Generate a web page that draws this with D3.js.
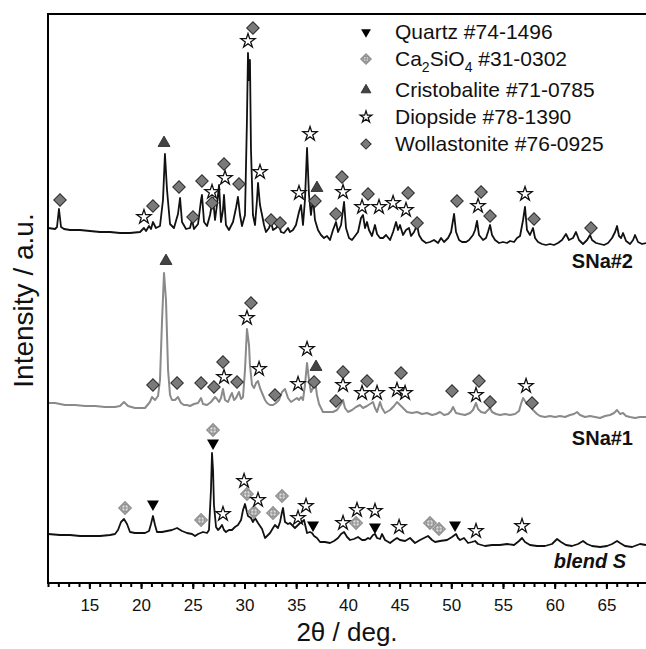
<!DOCTYPE html>
<html>
<head>
<meta charset="utf-8">
<script src="https://cdn.jsdelivr.net/npm/d3@7"></script>
<style>
  body { margin: 0; background: #fff; }
  svg { display: block; font-family: "Liberation Sans", Arial, sans-serif; }
</style>
</head>
<body>
<svg id="chart" width="646" height="649"></svg>
<script>
// XRD patterns, [2theta, intensity a.u.] (stacked offsets already included)
const snaTwo = [[11.00,355],[11.68,354],[11.87,356],[12.06,374],[12.26,356],[12.55,354],[13.13,353],[14.09,353],[15.06,352],[16.03,351],[17.00,351],[17.96,350],[18.93,350],[19.90,351],[20.28,355],[20.48,352],[20.77,357],[20.96,354],[21.15,361],[21.44,355],[21.83,357],[22.12,383],[22.31,429],[22.51,393],[22.80,359],[23.18,355],[23.57,369],[23.77,385],[23.96,361],[24.35,354],[24.73,355],[24.93,363],[25.12,354],[25.51,359],[25.80,383],[25.89,388],[26.09,361],[26.38,357],[26.67,368],[26.96,385],[27.15,363],[27.34,378],[27.54,398],[27.73,361],[27.92,373],[28.02,388],[28.21,358],[28.50,353],[28.89,361],[29.18,375],[29.37,386],[29.57,368],[29.76,357],[30.05,368],[30.24,463],[30.34,530],[30.44,503],[30.53,523],[30.63,433],[30.82,368],[31.02,358],[31.21,383],[31.31,400],[31.50,378],[31.70,368],[31.89,358],[32.08,351],[32.37,355],[32.57,361],[32.76,353],[33.05,355],[33.34,358],[33.53,351],[33.82,350],[34.21,355],[34.40,351],[34.69,353],[34.98,358],[35.27,371],[35.47,378],[35.66,358],[35.85,383],[36.05,435],[36.24,388],[36.43,368],[36.63,385],[36.82,363],[37.11,353],[37.40,348],[37.69,345],[37.98,347],[38.27,343],[38.56,353],[38.85,361],[39.05,351],[39.34,358],[39.63,381],[39.82,355],[40.11,345],[40.40,343],[40.69,347],[40.98,351],[41.27,365],[41.46,368],[41.66,355],[41.85,361],[42.04,353],[42.33,347],[42.62,358],[42.82,349],[43.11,345],[43.40,345],[43.69,348],[44.08,343],[44.37,351],[44.66,361],[44.85,353],[45.04,358],[45.33,348],[45.62,353],[45.91,355],[46.11,347],[46.40,351],[46.69,358],[46.88,348],[47.17,343],[47.56,340],[47.94,341],[48.33,343],[48.72,340],[49.01,345],[49.30,341],[49.69,345],[49.98,351],[50.27,369],[50.46,351],[50.75,343],[51.04,341],[51.43,341],[51.72,343],[52.10,348],[52.30,353],[52.49,362],[52.68,348],[53.07,343],[53.36,345],[53.55,351],[53.75,358],[53.94,348],[54.23,343],[54.62,340],[55.00,341],[55.39,340],[55.68,342],[56.07,341],[56.36,345],[56.65,347],[56.94,363],[57.13,376],[57.32,353],[57.61,348],[57.90,355],[58.10,345],[58.39,341],[58.77,339],[59.16,338],[59.55,339],[59.93,338],[60.32,340],[60.71,343],[61.09,349],[61.38,343],[61.77,345],[62.06,351],[62.35,343],[62.74,339],[63.13,343],[63.42,348],[63.61,343],[64.00,340],[64.39,339],[64.77,338],[65.16,340],[65.55,345],[65.84,351],[66.03,357],[66.22,347],[66.42,345],[66.61,350],[66.90,342],[67.29,339],[67.58,343],[67.77,348],[68.06,341],[68.45,339],[68.83,340]];

const snaOne = [[11.00,180],[11.68,180],[12.64,178],[13.61,178],[14.58,177],[15.55,177],[16.51,176],[17.48,176],[17.96,177],[18.35,181],[18.74,177],[19.41,175],[20.38,175],[20.86,181],[21.06,186],[21.35,183],[21.64,187],[21.83,203],[22.03,263],[22.22,310],[22.41,283],[22.61,213],[22.80,188],[22.99,183],[23.28,183],[23.57,186],[23.86,180],[24.15,178],[24.44,178],[24.73,177],[25.12,179],[25.51,180],[25.80,185],[25.99,179],[26.38,178],[26.76,181],[27.15,186],[27.34,184],[27.54,181],[27.73,185],[27.92,194],[28.12,183],[28.41,181],[28.60,186],[28.79,190],[28.99,183],[29.18,185],[29.47,191],[29.67,184],[29.86,186],[30.05,213],[30.24,254],[30.44,238],[30.53,218],[30.73,198],[30.92,195],[31.12,200],[31.31,202],[31.50,195],[31.70,190],[31.99,183],[32.18,180],[32.47,178],[32.76,178],[33.05,180],[33.34,183],[33.63,191],[33.92,194],[34.21,185],[34.50,181],[34.79,183],[35.08,185],[35.27,183],[35.47,186],[35.66,183],[35.85,198],[36.05,220],[36.24,203],[36.43,191],[36.63,195],[36.82,203],[37.01,188],[37.21,179],[37.59,171],[38.08,171],[38.56,171],[38.95,173],[39.34,179],[39.53,183],[39.72,175],[40.01,171],[40.40,173],[40.79,176],[41.17,178],[41.46,175],[41.85,177],[42.14,179],[42.43,181],[42.62,175],[42.82,171],[43.11,181],[43.30,175],[43.59,170],[44.08,173],[44.46,177],[44.75,181],[45.04,178],[45.33,175],[45.72,171],[46.20,170],[46.69,171],[47.17,169],[47.65,170],[48.14,168],[48.52,169],[48.91,171],[49.30,168],[49.69,169],[49.98,172],[50.17,176],[50.46,170],[50.85,169],[51.33,168],[51.81,170],[52.10,173],[52.39,180],[52.59,174],[52.88,171],[53.26,170],[53.55,173],[53.75,175],[53.94,171],[54.33,169],[54.71,168],[55.20,169],[55.68,168],[56.16,169],[56.55,172],[56.74,179],[56.94,185],[57.13,182],[57.32,179],[57.61,178],[57.90,173],[58.29,169],[58.58,167],[59.06,166],[59.55,167],[60.03,166],[60.51,167],[61.00,166],[61.48,168],[61.87,169],[62.16,171],[62.45,168],[62.93,166],[63.42,167],[63.90,166],[64.39,165],[64.87,167],[65.35,168],[65.74,170],[66.03,173],[66.32,169],[66.61,170],[66.90,167],[67.29,166],[67.77,165],[68.25,166],[68.83,166]];

const blendS = [[11.00,49],[12.16,48],[13.13,48],[14.09,47],[15.06,47],[16.03,47],[17.00,48],[17.48,49],[17.77,53],[18.06,61],[18.35,64],[18.64,59],[18.93,51],[19.41,50],[19.90,50],[20.38,50],[20.77,52],[20.96,59],[21.15,67],[21.35,58],[21.54,51],[22.03,51],[22.51,52],[22.99,53],[23.48,55],[23.96,52],[24.44,50],[24.93,49],[25.22,47],[25.51,49],[25.99,51],[26.38,50],[26.57,53],[26.76,93],[26.86,130],[26.96,113],[27.05,78],[27.25,56],[27.44,53],[27.63,55],[27.83,58],[28.02,53],[28.21,51],[28.50,53],[28.79,53],[29.08,56],[29.37,58],[29.67,63],[29.86,73],[30.05,79],[30.24,71],[30.34,67],[30.63,65],[30.82,61],[31.02,65],[31.31,60],[31.70,54],[31.99,45],[32.28,48],[32.47,50],[32.76,55],[32.95,58],[33.24,55],[33.44,61],[33.63,71],[33.73,75],[33.92,61],[34.21,59],[34.40,60],[34.69,57],[34.88,55],[35.18,58],[35.37,60],[35.56,61],[35.76,63],[36.05,50],[36.34,51],[36.53,50],[36.73,47],[37.01,45],[37.31,41],[37.79,41],[38.27,40],[38.66,42],[39.05,45],[39.34,49],[39.63,51],[39.92,46],[40.21,43],[40.59,44],[40.98,46],[41.37,43],[41.66,43],[41.95,45],[42.14,44],[42.43,48],[42.62,49],[42.82,45],[43.11,44],[43.30,49],[43.59,43],[44.08,40],[44.46,43],[44.75,45],[45.04,43],[45.53,42],[46.01,45],[46.49,40],[46.98,43],[47.36,45],[47.75,47],[48.14,43],[48.43,41],[48.91,42],[49.59,43],[50.07,46],[50.46,49],[50.65,45],[50.85,43],[51.23,45],[51.62,40],[52.00,41],[52.30,42],[52.59,39],[53.26,37],[53.94,38],[54.71,38],[55.39,39],[56.07,38],[56.55,42],[56.84,45],[57.13,41],[57.61,38],[58.29,37],[59.06,37],[59.74,39],[60.23,44],[60.61,41],[61.09,38],[61.67,37],[62.26,39],[62.74,42],[63.13,39],[63.61,37],[64.39,36],[65.06,37],[65.55,39],[66.03,42],[66.32,40],[66.80,37],[67.48,36],[68.25,39],[68.83,38]];

// phase marks, [2theta, intensity where the symbol sits]
const quartzPeaks = [[21.15,79],[26.96,140],[36.63,58],[42.62,56],[50.36,58]];
const ca2sio4Peaks = [[18.45,75],[25.80,63],[26.96,153],[30.24,89],[30.92,71],[32.76,70],[33.63,87],[40.79,60],[47.94,60],[48.81,54]];
const cristobalitePeaks = [[22.22,440],[37.01,395],[22.41,322],[36.92,216]];
const diopsidePeaks = [
  [20.28,366],[26.86,391],[28.12,405],[30.34,542],[31.50,411],[35.27,390],[36.34,449],[39.53,391],[41.37,376],[43.01,376],[44.37,380],[45.62,373],[52.59,377],[57.13,389],
  [28.02,206],[30.24,265],[31.41,214],[35.18,199],[36.05,234],[39.53,198],[41.37,190],[42.82,190],[44.75,193],[45.53,190],[52.39,188],[57.23,197],
  [27.92,69],[29.96,102],[31.31,83],[35.18,65],[35.95,77],[39.53,60],[40.88,73],[42.62,72],[44.95,56],[52.39,52],[56.84,57]];
const wollastonitePeaks = [
  [12.16,383],[21.15,377],[23.67,396],[25.02,366],[25.89,402],[26.86,380],[28.02,419],[29.47,399],[30.82,555],[32.57,363],[33.44,360],[36.82,382],[38.85,369],[39.43,406],[41.95,389],[45.82,390],[46.69,360],[50.55,382],[52.88,391],[53.75,367],[58.00,364],[63.51,355],
  [21.15,198],[23.48,200],[25.80,200],[27.05,196],[27.92,221],[29.28,201],[30.63,280],[32.95,188],[36.73,201],[38.85,182],[39.53,211],[41.85,202],[45.14,210],[50.07,192],[52.68,202],[53.75,181],[57.81,180]];

const sampleNames = ["SNa#2", "SNa#1", "blend S"];
const majorTicks = [15, 20, 25, 30, 35, 40, 45, 50, 55, 60, 65];
const minorTicks = d3.range(11, 69);

const svg = d3.select("#chart");
const plot = { left: 48, right: 646, top: 14, bottom: 583 };

const x = d3.scaleLinear().domain([11, 68.83]).range([plot.left, plot.right]);
const y = d3.scaleLinear().domain([0, 569]).range([plot.bottom, plot.top]);

svg.append("rect").attr("width", 646).attr("height", 649).attr("fill", "#fff");

svg.append("clipPath").attr("id", "clip")
  .append("rect")
  .attr("x", plot.left).attr("y", plot.top)
  .attr("width", plot.right - plot.left).attr("height", plot.bottom - plot.top);

const line = d3.line().x(d => x(d[0])).y(d => y(d[1]));

// the three patterns
const traces = [
  { data: snaTwo, color: "#111", width: 1.8 },
  { data: snaOne, color: "#8a8a8a", width: 2 },
  { data: blendS, color: "#111", width: 1.8 }
];
svg.append("g").attr("clip-path", "url(#clip)")
  .selectAll("path").data(traces).join("path")
  .attr("d", d => line(d.data))
  .attr("fill", "none")
  .attr("stroke", d => d.color)
  .attr("stroke-width", d => d.width)
  .attr("stroke-linejoin", "round");

// marker drawing, k scales the size (legend uses smaller ones)
function drawMarker(g, kind, k) {
  if (kind === "quartz") {
    g.append("path").attr("d", d3.symbol(d3.symbolTriangle, 62 * k * k)())
      .attr("transform", "rotate(180)").attr("fill", "#000");
  } else if (kind === "ca2sio4") {
    g.append("path").attr("d", d3.symbol(d3.symbolSquare, 78 * k * k)())
      .attr("transform", "rotate(45)")
      .attr("fill", "#dedede").attr("stroke", "#929292").attr("stroke-width", 1.3);
    g.append("circle").attr("r", 3.6 * k)
      .attr("fill", "none").attr("stroke", "#929292").attr("stroke-width", 1.2);
    g.append("path").attr("d", `M${-6 * k},0H${6 * k}M0,${-6 * k}V${6 * k}`)
      .attr("stroke", "#929292").attr("stroke-width", 1.2);
  } else if (kind === "cristobalite") {
    g.append("path").attr("d", d3.symbol(d3.symbolTriangle, 62 * k * k)())
      .attr("fill", "#444").attr("stroke", "#222").attr("stroke-width", 0.8);
  } else if (kind === "diopside") {
    g.append("path").attr("d", d3.symbol(d3.symbolStar, 62 * k * k)())
      .attr("fill", "#fff").attr("stroke", "#111").attr("stroke-width", 1.3);
  } else {
    g.append("path").attr("d", d3.symbol(d3.symbolSquare, 78 * k * k)())
      .attr("transform", "rotate(45)")
      .attr("fill", "#7a7a7a").attr("stroke", "#2a2a2a").attr("stroke-width", 1);
  }
}

const phases = [
  { kind: "quartz", peaks: quartzPeaks },
  { kind: "ca2sio4", peaks: ca2sio4Peaks },
  { kind: "cristobalite", peaks: cristobalitePeaks },
  { kind: "diopside", peaks: diopsidePeaks },
  { kind: "wollastonite", peaks: wollastonitePeaks }
];

const markLayer = svg.append("g");
phases.forEach(p => {
  markLayer.selectAll(null).data(p.peaks).join("g")
    .attr("transform", d => `translate(${x(d[0])},${y(d[1])})`)
    .each(function() { drawMarker(d3.select(this), p.kind, 1); });
});

// x axis: minor and major ticks
const minorAxis = svg.append("g")
  .attr("transform", `translate(0,${plot.bottom})`)
  .call(d3.axisBottom(x).tickValues(minorTicks).tickSize(4).tickSizeOuter(0).tickFormat(""));
minorAxis.select(".domain").remove();
minorAxis.selectAll("line").attr("stroke", "#000").attr("stroke-width", 2);

const majorAxis = svg.append("g")
  .attr("transform", `translate(0,${plot.bottom})`)
  .call(d3.axisBottom(x).tickValues(majorTicks).tickSize(6).tickSizeOuter(0).tickPadding(10));
majorAxis.select(".domain").remove();
majorAxis.selectAll("line").attr("stroke", "#000").attr("stroke-width", 2);
majorAxis.selectAll("text")
  .attr("fill", "#111")
  .style("font-family", "'Liberation Sans', Arial, sans-serif")
  .style("font-size", "17px");

// frame: left, top and bottom lines
svg.append("path")
  .attr("d", `M${plot.right},${plot.top}H${plot.left}V${plot.bottom}H${plot.right}`)
  .attr("fill", "none").attr("stroke", "#000").attr("stroke-width", 2);

// axis titles
svg.append("text")
  .attr("x", (plot.left + plot.right) / 2).attr("y", 641)
  .attr("text-anchor", "middle")
  .style("font-size", "26px").attr("fill", "#111")
  .text("2θ / deg.");

svg.append("text")
  .attr("transform", `translate(33,${(plot.top + plot.bottom) / 2 + 2}) rotate(-90)`)
  .attr("text-anchor", "middle")
  .style("font-size", "28px").attr("fill", "#111")
  .text("Intensity / a.u.");

// sample names
const nameSpots = [[633, 268, "normal"], [633, 445, "normal"], [626, 568, "italic"]];
svg.selectAll(".sample").data(sampleNames).join("text")
  .attr("class", "sample")
  .attr("x", (d, i) => nameSpots[i][0])
  .attr("y", (d, i) => nameSpots[i][1])
  .attr("text-anchor", "end")
  .style("font-size", "20px").style("font-weight", "bold")
  .style("font-style", (d, i) => nameSpots[i][2])
  .attr("fill", "#111")
  .text(d => d);

// legend
const legendItems = [
  { kind: "quartz", parts: [["Quartz #74-1496", 0]] },
  { kind: "ca2sio4", parts: [["Ca", 0], ["2", 1], ["SiO", 0], ["4", 1], [" #31-0302", 0]] },
  { kind: "cristobalite", parts: [["Cristobalite #71-0785", 0]] },
  { kind: "diopside", parts: [["Diopside #78-1390", 0]] },
  { kind: "wollastonite", parts: [["Wollastonite #76-0925", 0]] }
];
const legendRows = [32, 59, 90, 117, 144];
const legend = svg.append("g");
legendItems.forEach((item, i) => {
  const row = legend.append("g").attr("transform", `translate(366,${legendRows[i]})`);
  drawMarker(row.append("g"), item.kind, 0.82);
  const t = row.append("text").attr("x", 29).attr("y", 7)
    .style("font-size", "21px").attr("fill", "#111");
  let shifted = false;
  item.parts.forEach(([s, sub]) => {
    const dy = sub && !shifted ? 6 : (!sub && shifted ? -6 : 0);
    shifted = !!sub;
    t.append("tspan").attr("dy", dy).attr("fill", "#111")
      .style("font-size", sub ? "14px" : "21px").text(s);
  });
});
</script>
</body>
</html>
